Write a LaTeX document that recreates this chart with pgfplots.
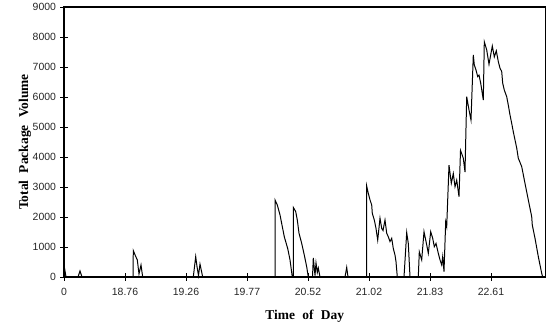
\documentclass[border=0pt]{standalone}
\usepackage{pgfplots}
\pgfplotsset{compat=1.18}
\usepackage{fontspec}
\setmainfont{Liberation Sans}
\newfontfamily\serifb{Liberation Serif}
\begin{document}
\begin{tikzpicture}
\path[use as bounding box] (-64bp,-55bp) rectangle (491bp,277bp);
\begin{axis}[
  at={(0,0)}, anchor=south west,
  scale only axis,
  width=481.5bp, height=270bp,
  xmin=64, xmax=545.5,
  ymin=0, ymax=9000,
  xtick={64,125,186,247,308,369,430,491},
  xticklabels={0,18.76,19.26,19.77,20.52,21.02,21.83,22.61},
  ytick={0,1000,...,9000},
  xtick pos=bottom, ytick pos=left,
  tick align=center,
  major tick length=7bp,
  axis line style={line width=1.2pt},
  tick style={black, line width=1pt},
  tick label style={font=\fontsize{10.5}{12}\selectfont, text=black!85},
  /pgf/number format/assume math mode=true,
  scaled y ticks=false,
  yticklabel style={/pgf/number format/1000 sep={}, xshift=-1bp},
  xticklabel style={yshift=-4bp},
  xlabel={\serifb\bfseries\fontsize{13.5}{15}\selectfont Time\hspace{0.3em} of\hspace{0.3em} Day},
  ylabel={\serifb\bfseries\fontsize{13.5}{15}\selectfont Total\hspace{0.3em} Package\hspace{0.3em} Volume},
  xlabel style={at={(axis description cs:0.5,0)}, anchor=center, yshift=-39bp},
  ylabel style={at={(axis description cs:0,0.5)}, anchor=center, yshift=39bp},
  clip=false,
]
\addplot[black, line width=1pt, mark=none] coordinates {
(64,400)(66,0)(78,0)(80,200)(82,0)(133,0)(133.3,880)(135.5,700)(137.3,570)(139,100)(141,400)(142.7,0)
(193.3,0)(195.7,680)(197,350)(198.5,50)(200,430)(202.7,0)
(275,0)(275,2570)(277.3,2400)(280,2070)(282.3,1680)(284.3,1340)(287.7,950)(290,570)(292.3,0)
(293.3,0)(293.3,2320)(295.7,2180)(297.3,1900)(299,1460)(301.7,1120)(304.3,730)(306.7,340)(308.3,0)
(312.5,0)(313.3,640)(315,50)(316,470)(317.3,150)(318.3,300)(320,0)
(345,0)(346.7,320)(348,0)
(366.7,0)(366.7,3030)(368.3,2790)(370,2570)(371.7,2400)(372.3,2120)(374.3,1900)(376,1620)(377.7,1230)(380,1960)(381.7,1620)(383,1550)(385,1900)(386.7,1460)(388.3,1340)(390,1180)(391.7,1290)(393.3,950)(395,730)(396,510)(397.3,0)
(404,0)(406.7,1480)(408.3,1120)(410,0)
(418.3,0)(419.3,840)(421.7,570)(424,1510)(426.7,1070)(428.3,790)(430.7,1510)(432.7,1290)(434.3,1010)(436,1120)(438.3,790)(440,570)(441.7,400)(442.7,680)(444,180)(445.7,1840)(446.7,1680)
(449,3730)(451.3,3120)(453.3,3450)(455,3010)(456.7,3230)(459,2680)(460.5,4220)(463.3,3960)(465,3500)
(466.7,6010)(469,5570)(471,5230)(473.3,7400)(474.3,7070)(476,6900)(477.7,6680)(479,6730)(480.7,6460)(483.3,5900)
(484.3,7840)(486.7,7570)(489,7090)(492.3,7700)(494.3,7340)(496.3,7540)(498.3,7180)(500,6960)(501.7,6850)(502.7,6460)
(504.3,6230)(506.7,6010)(508.3,5730)(510,5400)(511.7,5120)(513.3,4840)(515,4570)(516.7,4300)(518.3,3960)(521.7,3680)
(525,3120)(528.3,2570)(531.7,2010)(532.3,1730)(535,1290)(538.3,680)(541.7,120)(542.7,0)
};
\end{axis}
\end{tikzpicture}
\end{document}
